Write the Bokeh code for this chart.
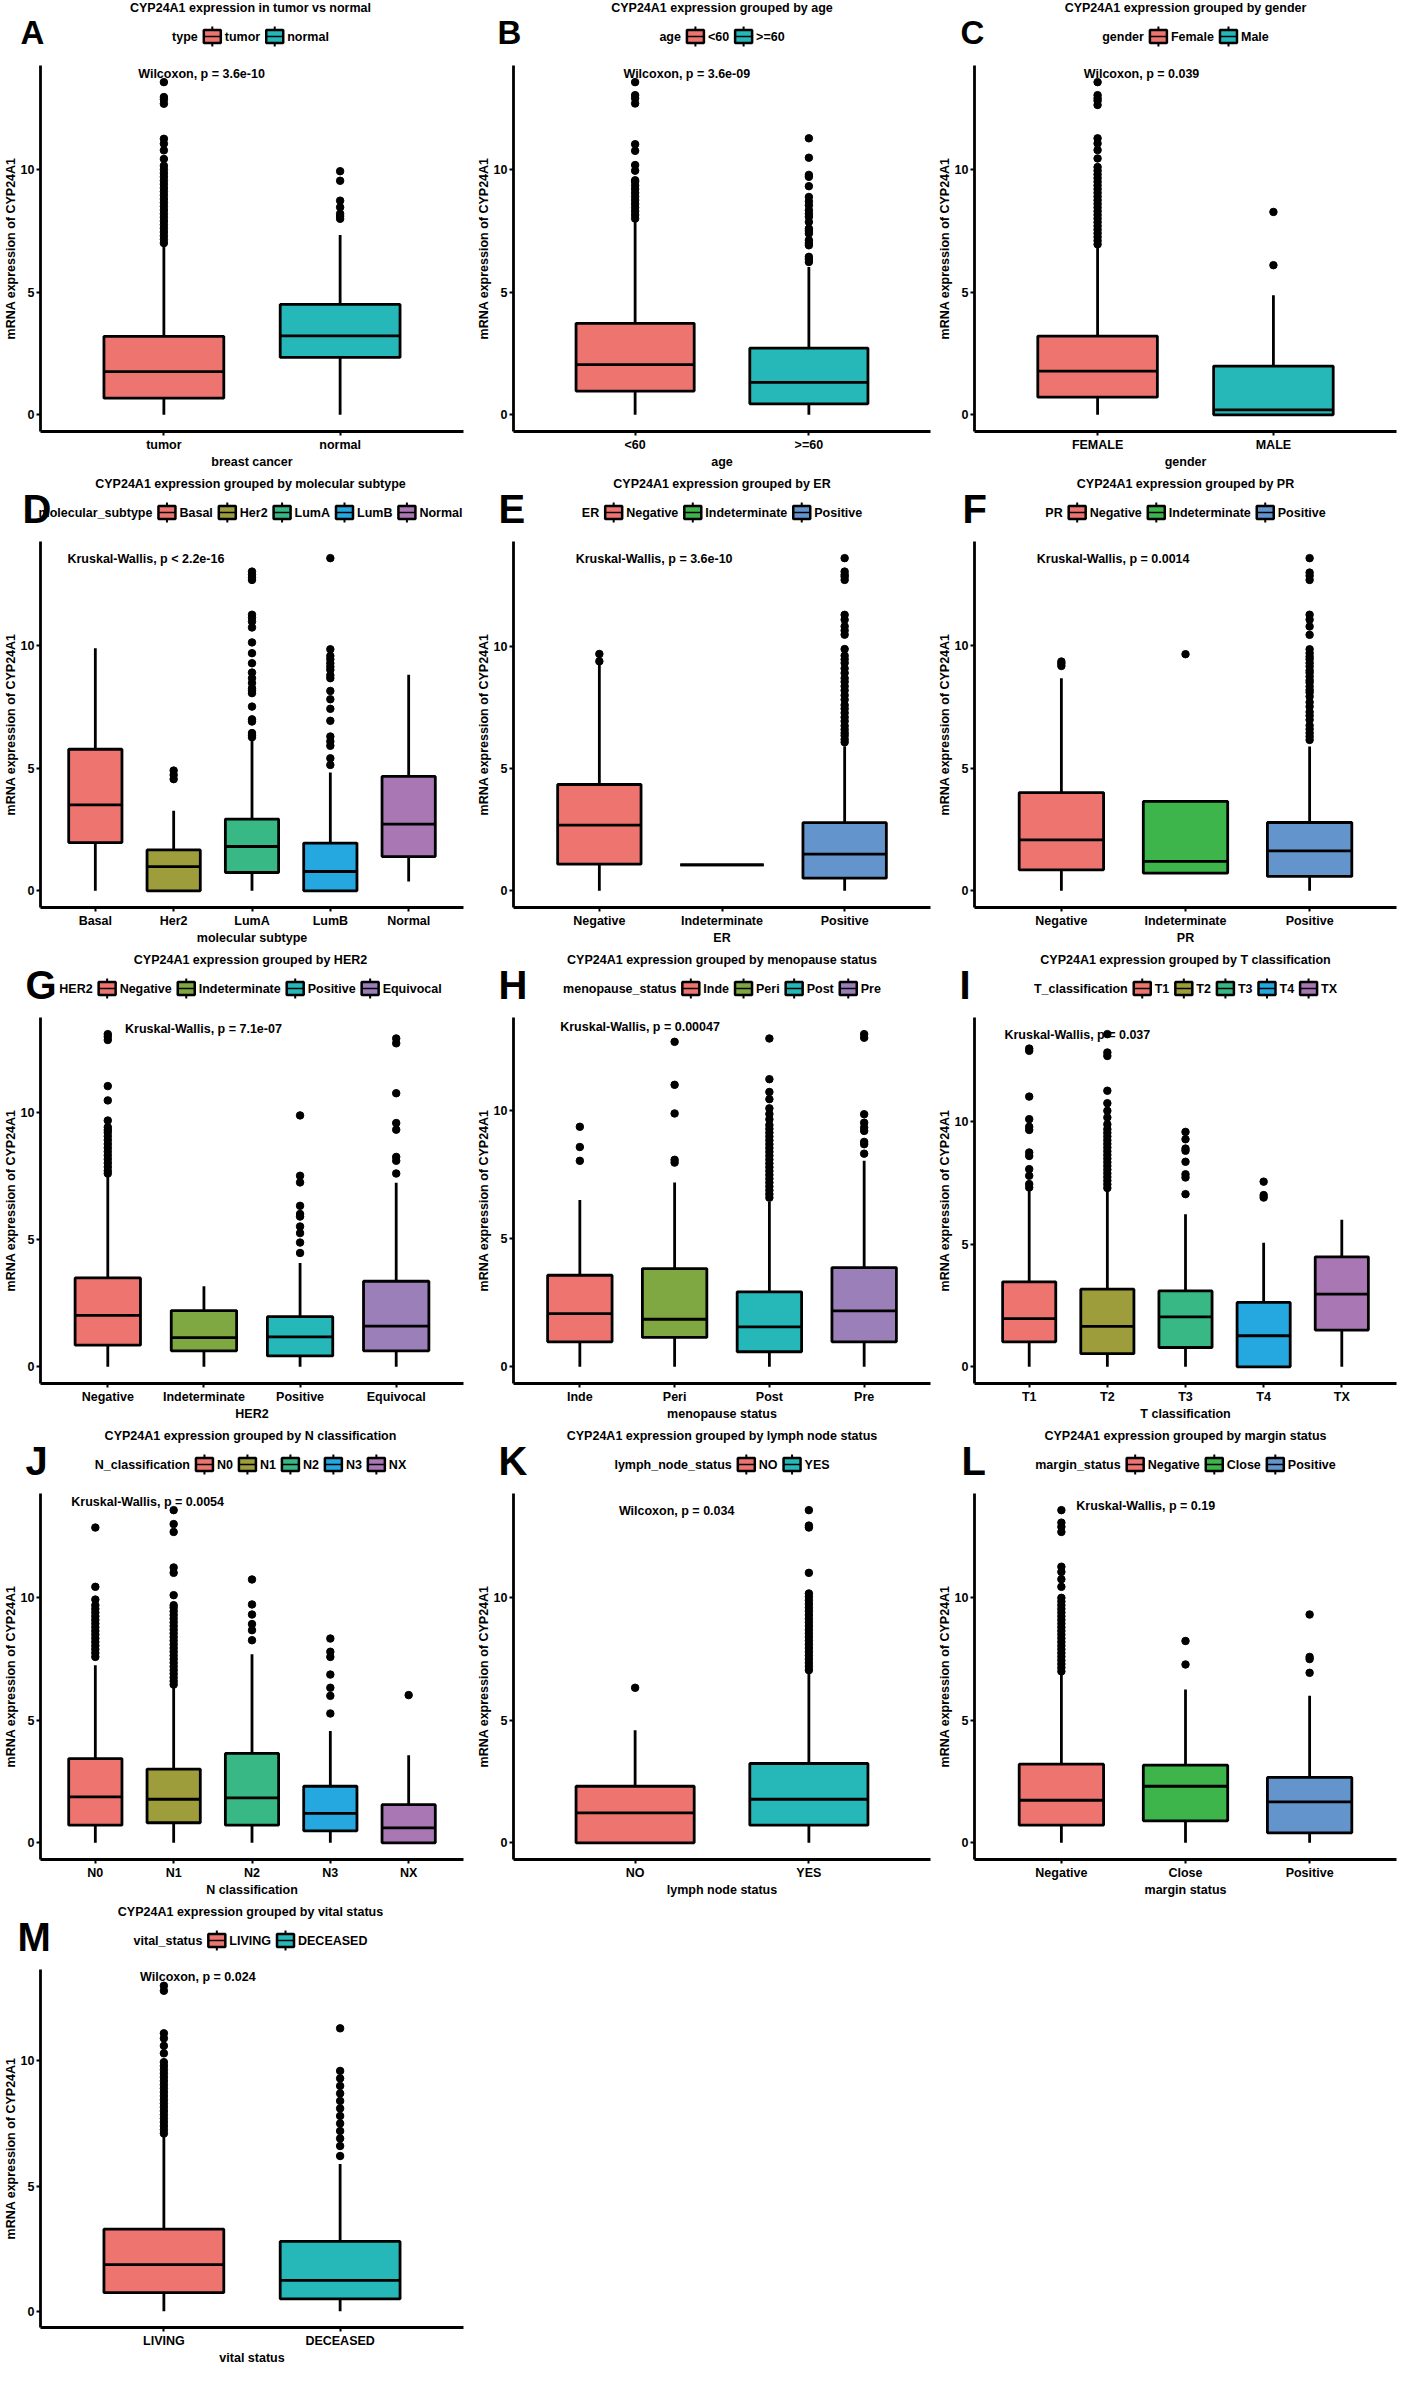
from bokeh.plotting import figure
from bokeh.models import ColumnDataSource, FactorRange, Range1d, FixedTicker
from bokeh.layouts import column, row
from bokeh.transform import dodge
from bokeh.core.properties import value
from bokeh.embed import file_html
from bokeh.resources import INLINE

FONT = "Liberation Sans"
TXT = "12.5px"
YLAB = "mRNA expression of CYP24A1"

# ---------------- data ----------------
A_cats = ["tumor", "normal"]
A_legend = ["tumor", "normal"]
A_low = [0.0, 0.0]
A_q1 = [0.68, 2.34]
A_median = [1.76, 3.22]
A_q3 = [3.20, 4.50]
A_high = [6.95, 7.33]
A_outliers = [
    [7.0, 7.15, 7.3, 7.45, 7.6, 7.75, 7.9, 8.05, 8.2, 8.35, 8.5, 8.65, 8.8, 8.95, 9.1, 9.25,
     9.4, 9.55, 9.7, 9.85, 10.0, 10.15, 10.43, 10.78, 11.05, 11.25, 12.68, 12.85, 12.95, 13.56],
    [7.99, 8.1, 8.2, 8.46, 8.73, 9.54, 9.93],
]

B_cats = ["<60", ">=60"]
B_legend = ["<60", ">=60"]
B_low = [0.0, 0.0]
B_q1 = [0.97, 0.45]
B_median = [2.05, 1.32]
B_q3 = [3.73, 2.72]
B_high = [7.93, 6.03]
B_outliers = [
    [8.0, 8.15, 8.3, 8.45, 8.6, 8.75, 8.9, 9.05, 9.2, 9.35, 9.5, 9.56, 9.95, 10.18, 10.76,
     11.03, 12.69, 12.9, 13.03, 13.56],
    [6.23, 6.35, 6.44, 6.91, 7.0, 7.12, 7.39, 7.5, 7.59, 7.86, 8.07, 8.2, 8.34, 8.54, 8.7,
     8.88, 9.32, 9.7, 9.78, 10.48, 11.27],
]

C_cats = ["FEMALE", "MALE"]
C_legend = ["Female", "Male"]
C_low = [0.0, 0.0]
C_q1 = [0.72, 0.0]
C_median = [1.78, 0.2]
C_q3 = [3.21, 1.99]
C_high = [6.84, 4.87]
C_outliers = [
    [6.95, 7.1, 7.25, 7.4, 7.55, 7.7, 7.85, 8.0, 8.15, 8.3, 8.45, 8.6, 8.75, 8.9, 9.05, 9.2,
     9.35, 9.5, 9.65, 9.8, 9.95, 10.1, 10.45, 10.79, 11.06, 11.27, 12.63, 12.8, 12.9, 13.03, 13.56],
    [6.1, 8.27],
]

D_cats = ["Basal", "Her2", "LumA", "LumB", "Normal"]
D_legend = ["Basal", "Her2", "LumA", "LumB", "Normal"]
D_low = [0.0, 0.0, 0.0, 0.0, 0.38]
D_q1 = [1.97, 0.0, 0.75, 0.0, 1.40]
D_median = [3.51, 0.99, 1.81, 0.79, 2.72]
D_q3 = [5.78, 1.67, 2.93, 1.95, 4.67]
D_high = [9.90, 3.27, 6.16, 4.83, 8.82]
D_outliers = [
    [],
    [4.56, 4.73, 4.91],
    [6.27, 6.35, 6.44, 6.91, 7.0, 7.52, 8.07, 8.17, 8.27, 8.48, 8.68, 8.91, 9.29, 9.7, 10.14,
     10.75, 10.99, 11.15, 11.27, 12.69, 12.8, 12.9, 13.03],
    [5.14, 5.41, 5.92, 6.1, 6.3, 6.94, 7.43, 7.82, 8.16, 8.68, 8.8, 9.02, 9.15, 9.29, 9.45,
     9.59, 9.86, 13.58],
    [],
]

E_cats = ["Negative", "Indeterminate", "Positive"]
E_legend = ["Negative", "Indeterminate", "Positive"]
E_low = [0.0, 1.06, 0.0]
E_q1 = [1.09, 1.06, 0.52]
E_median = [2.69, 1.06, 1.50]
E_q3 = [4.35, 1.06, 2.79]
E_high = [9.32, 1.06, 5.92]
E_outliers = [
    [9.39, 9.69],
    [],
    [6.08, 6.2, 6.35, 6.46, 6.6, 6.75, 6.94, 7.1, 7.28, 7.45, 7.6, 7.82, 8.0, 8.2, 8.37, 8.55,
     8.7, 8.91, 9.1, 9.32, 9.47, 9.62, 9.89, 10.48, 10.65, 10.82, 11.09, 11.29, 12.72, 12.85,
     12.93, 13.06, 13.61],
]

F_cats = ["Negative", "Indeterminate", "Positive"]
F_legend = ["Negative", "Indeterminate", "Positive"]
F_low = [0.0, 0.72, 0.0]
F_q1 = [0.86, 0.72, 0.59]
F_median = [2.08, 1.20, 1.63]
F_q3 = [4.01, 3.65, 2.79]
F_high = [8.68, 3.65, 5.89]
F_outliers = [
    [9.18, 9.28, 9.36],
    [9.66],
    [6.16, 6.3, 6.44, 6.6, 6.75, 6.98, 7.15, 7.3, 7.52, 7.7, 7.93, 8.1, 8.2, 8.34, 8.5, 8.6,
     8.75, 8.9, 9.0, 9.16, 9.3, 9.45, 9.56, 9.7, 9.86, 10.45, 10.79, 11.07, 11.27, 12.69,
     12.86, 12.99, 13.58],
]

G_cats = ["Negative", "Indeterminate", "Positive", "Equivocal"]
G_legend = ["Negative", "Indeterminate", "Positive", "Equivocal"]
G_low = [0.0, 0.0, 0.0, 0.0]
G_q1 = [0.85, 0.63, 0.43, 0.63]
G_median = [2.02, 1.15, 1.18, 1.60]
G_q3 = [3.49, 2.21, 1.97, 3.36]
G_high = [7.46, 3.16, 4.08, 7.23]
G_outliers = [
    [7.59, 7.7, 7.85, 8.0, 8.15, 8.3, 8.45, 8.6, 8.75, 8.9, 9.05, 9.2, 9.3, 9.41, 9.67, 10.46,
     11.02, 12.83, 12.96, 13.06],
    [],
    [4.47, 4.88, 5.25, 5.51, 5.9, 6.0, 6.32, 7.24, 7.5, 9.87],
    [7.59, 8.09, 8.24, 9.31, 9.57, 10.74, 12.7, 12.89],
]

H_cats = ["Inde", "Peri", "Post", "Pre"]
H_legend = ["Inde", "Peri", "Post", "Pre"]
H_low = [0.0, 0.0, 0.0, 0.0]
H_q1 = [0.98, 1.15, 0.59, 0.98]
H_median = [2.08, 1.86, 1.56, 2.19]
H_q3 = [3.58, 3.84, 2.93, 3.88]
H_high = [6.52, 7.20, 6.45, 8.05]
H_outliers = [
    [8.05, 8.59, 9.38],
    [7.98, 8.09, 9.9, 11.02, 12.7],
    [6.61, 6.75, 6.9, 7.05, 7.2, 7.35, 7.5, 7.65, 7.8, 7.95, 8.1, 8.25, 8.4, 8.55, 8.7, 8.85,
     9.0, 9.15, 9.3, 9.45, 9.67, 9.88, 10.1, 10.46, 10.74, 11.24, 12.83],
    [8.33, 8.7, 8.79, 9.22, 9.35, 9.54, 9.87, 12.86, 13.0],
]

I_cats = ["T1", "T2", "T3", "T4", "TX"]
I_legend = ["T1", "T2", "T3", "T4", "TX"]
I_low = [0.0, 0.0, 0.0, 0.0, 0.0]
I_q1 = [1.02, 0.54, 0.79, 0.0, 1.50]
I_median = [1.97, 1.65, 2.04, 1.27, 2.97]
I_q3 = [3.47, 3.17, 3.10, 2.63, 4.49]
I_high = [7.18, 7.18, 6.23, 5.07, 6.00]
I_outliers = [
    [7.32, 7.46, 7.8, 8.07, 8.61, 8.75, 9.67, 9.8, 10.11, 11.03, 12.9, 12.99],
    [7.3, 7.45, 7.6, 7.75, 7.9, 8.05, 8.2, 8.35, 8.5, 8.65, 8.8, 8.95, 9.1, 9.25, 9.4, 9.55,
     9.7, 9.9, 10.18, 10.45, 10.76, 11.27, 12.69, 12.83, 13.58],
    [7.05, 7.73, 7.86, 8.37, 8.82, 8.91, 9.29, 9.59],
    [6.91, 7.01, 7.56],
    [],
]

J_cats = ["N0", "N1", "N2", "N3", "NX"]
J_legend = ["N0", "N1", "N2", "N3", "NX"]
J_low = [0.0, 0.0, 0.0, 0.0, 0.0]
J_q1 = [0.72, 0.82, 0.72, 0.49, 0.0]
J_median = [1.88, 1.78, 1.84, 1.20, 0.61]
J_q3 = [3.44, 3.01, 3.65, 2.31, 1.56]
J_high = [7.25, 6.37, 7.70, 4.57, 3.58]
J_outliers = [
    [7.59, 7.75, 7.9, 8.05, 8.2, 8.35, 8.5, 8.65, 8.8, 8.95, 9.1, 9.25, 9.4, 9.55, 9.7, 9.93,
     10.45, 12.87],
    [6.46, 6.6, 6.75, 6.9, 7.05, 7.2, 7.35, 7.5, 7.65, 7.8, 7.95, 8.1, 8.25, 8.4, 8.55, 8.7,
     8.85, 9.0, 9.15, 9.3, 9.45, 9.6, 9.7, 10.11, 11.02, 11.24, 12.69, 13.01, 13.58],
    [8.27, 8.68, 8.93, 9.32, 9.73, 10.75],
    [5.28, 6.0, 6.33, 6.87, 7.59, 7.8, 8.34],
    [6.03],
]

K_cats = ["NO", "YES"]
K_legend = ["NO", "YES"]
K_low = [0.0, 0.0]
K_q1 = [0.0, 0.72]
K_median = [1.22, 1.78]
K_q3 = [2.31, 3.24]
K_high = [4.60, 6.98]
K_outliers = [
    [6.33],
    [7.05, 7.2, 7.35, 7.5, 7.65, 7.8, 7.95, 8.1, 8.25, 8.4, 8.55, 8.7, 8.85, 9.0, 9.15, 9.3,
     9.45, 9.6, 9.75, 9.9, 10.05, 10.18, 11.02, 12.87, 12.95, 13.58],
]

L_cats = ["Negative", "Close", "Positive"]
L_legend = ["Negative", "Close", "Positive"]
L_low = [0.0, 0.0, 0.0]
L_q1 = [0.72, 0.90, 0.41]
L_median = [1.74, 2.31, 1.67]
L_q3 = [3.21, 3.17, 2.67]
L_high = [6.91, 6.26, 6.00]
L_outliers = [
    [7.0, 7.15, 7.3, 7.45, 7.6, 7.75, 7.9, 8.05, 8.2, 8.35, 8.5, 8.65, 8.8, 8.95, 9.1, 9.25,
     9.4, 9.55, 9.7, 9.85, 10.0, 10.45, 10.76, 11.06, 11.27, 12.69, 12.9, 13.07, 13.58],
    [7.28, 8.24],
    [6.94, 7.5, 7.59, 9.32],
]

M_cats = ["LIVING", "DECEASED"]
M_legend = ["LIVING", "DECEASED"]
M_low = [0.0, 0.0]
M_q1 = [0.74, 0.49]
M_median = [1.86, 1.23]
M_q3 = [3.28, 2.79]
M_high = [6.98, 5.88]
M_outliers = [
    [7.1, 7.25, 7.4, 7.55, 7.7, 7.85, 8.0, 8.15, 8.3, 8.45, 8.6, 8.75, 8.9, 9.05, 9.2, 9.35,
     9.5, 9.65, 9.8, 9.95, 10.3, 10.6, 10.9, 11.1, 12.8, 13.0],
    [6.2, 6.6, 6.9, 7.2, 7.5, 7.8, 8.1, 8.4, 8.7, 9.0, 9.3, 9.6, 11.3],
]

# ---------------- colours ----------------
PAL2 = ["#EE7470", "#26B8B8"]
PAL3 = ["#EE7470", "#3DB54A", "#6394CC"]
PAL4 = ["#EE7470", "#7FA843", "#26B8B8", "#9A7FB8"]
PAL5 = ["#EE7470", "#9D9E3B", "#37B884", "#25A7E0", "#A977B4"]

# ---------------- layout ----------------
COL_W = [466, 466, 465]
COL_BL = [37, 47, 42]
COL_BR = [3, 2, 1]
ROW_H = [476, 476, 476, 476, 463]
FRAME_H = [366, 366, 366, 366, 366]
HEAD = 65

# Arial/Liberation Sans Bold advance widths (1/1000 em) for legend layout
CW = {' ': 278, ',': 278, '-': 333, '.': 278, '<': 584, '=': 584, '>': 584, '_': 556,
      'A': 722, 'B': 722, 'C': 722, 'D': 722, 'E': 667, 'F': 611, 'G': 778, 'H': 722, 'I': 278,
      'J': 556, 'K': 722, 'L': 611, 'M': 833, 'N': 722, 'O': 778, 'P': 667, 'Q': 778, 'R': 722,
      'S': 667, 'T': 611, 'U': 722, 'V': 667, 'W': 944, 'X': 667, 'Y': 667, 'Z': 611,
      'a': 556, 'b': 611, 'c': 556, 'd': 611, 'e': 556, 'f': 333, 'g': 611, 'h': 611, 'i': 278,
      'j': 278, 'k': 556, 'l': 278, 'm': 889, 'n': 611, 'o': 611, 'p': 611, 'q': 611, 'r': 389,
      's': 556, 't': 333, 'u': 611, 'v': 556, 'w': 778, 'x': 556, 'y': 556, 'z': 500}


def tw(s, size=12.5):
    return sum(CW.get(ch, 556) for ch in s) / 1000.0 * size


def text_kw(size=TXT):
    return dict(text_font=value(FONT), text_font_style="bold", text_font_size=value(size),
                text_color="black")


def no_align(fig):
    if "frame_align" in fig.properties():
        fig.frame_align = False


def header(col, rw, letter, letter_size, letter_dx, title, leg_title, labels, pal):
    W = COL_W[col]
    bl, br = COL_BL[col], COL_BR[col]
    fw = W - bl - br
    cx = bl + fw / 2
    h = figure(width=W, height=HEAD, x_range=Range1d(0, W), y_range=Range1d(HEAD, 0),
               output_backend="svg", toolbar_location=None, tools="", title=None,
               x_axis_location=None, y_axis_location=None, min_border=0,
               min_border_left=0, min_border_right=0, min_border_top=0, min_border_bottom=0)
    no_align(h)
    h.outline_line_color = None
    h.xgrid.grid_line_color = None
    h.ygrid.grid_line_color = None
    h.text(x=[bl + letter_dx], y=[32], text=[letter], text_align="left",
           text_baseline="alphabetic", **text_kw(letter_size))
    h.text(x=[cx], y=[7], text=[title], text_align="center", text_baseline="middle",
           **text_kw())
    # ggplot-style legend: title, then key + label per level
    n = len(labels)
    total = tw(leg_title) + 6 + sum(17 + 4 + tw(l) for l in labels) + 6 * (n - 1)
    x = cx - total / 2
    tx, ty, tt = [x], [36], [leg_title]
    x += tw(leg_title) + 6
    kl, kr = [], []
    for l in labels:
        kl.append(x)
        kr.append(x + 17)
        x += 21
        tx.append(x)
        ty.append(36)
        tt.append(l)
        x += tw(l) + 6
    kc = [(a + b) / 2 for a, b in zip(kl, kr)]
    h.segment(x0=kc, y0=[26] * n, x1=kc, y1=[46] * n, line_color="black", line_width=2)
    h.quad(left=kl, right=kr, top=[29.5] * n, bottom=[42.5] * n, fill_color=pal[:n],
           line_color="black", line_width=2.5)
    h.segment(x0=kl, y0=[36] * n, x1=kr, y1=[36] * n, line_color="black", line_width=1.5)
    h.text(x=tx, y=ty, text=tt, text_align="left", text_baseline="middle", **text_kw())
    return h


def panel(col, rw, cats, pal, lo, q1, med, q3, hi, outs, xlab, ptext, ptx, pty):
    W, H = COL_W[col], ROW_H[rw] - HEAD
    bl, br = COL_BL[col], COL_BR[col]
    fh = FRAME_H[rw]
    bb = H - fh
    fw = W - bl - br
    n = len(cats)
    vals = list(hi)
    for o in outs:
        vals.extend(o)
    ymax = max(vals)
    pad = 0.05 * ymax
    p = figure(width=W, height=H, title=None,
               x_range=FactorRange(factors=cats, range_padding=0.2, range_padding_units="absolute"),
               y_range=Range1d(-pad, ymax + pad),
               output_backend="svg", toolbar_location=None, tools="",
               min_border_left=bl, min_border_right=br, min_border_top=0, min_border_bottom=bb)
    no_align(p)
    p.outline_line_color = None
    p.xgrid.grid_line_color = None
    p.ygrid.grid_line_color = None

    src = ColumnDataSource(dict(x=cats, lo=lo, q1=q1, med=med, q3=q3, hi=hi, color=pal[:n]))
    ox, oy = [], []
    for c, o in zip(cats, outs):
        ox.extend([c] * len(o))
        oy.extend(o)
    p.scatter(x=ox, y=oy, size=7.5, color="black")
    p.segment(x0="x", y0="q3", x1="x", y1="hi", source=src, line_color="black", line_width=2.8)
    p.segment(x0="x", y0="lo", x1="x", y1="q1", source=src, line_color="black", line_width=2.8)
    p.vbar(x="x", bottom="q1", top="q3", width=0.68, source=src, fill_color="color",
           line_color="black", line_width=2.8)
    p.segment(x0=dodge("x", -0.34, range=p.x_range), y0="med",
              x1=dodge("x", 0.34, range=p.x_range), y1="med", source=src,
              line_color="black", line_width=2.8)

    # statistics text (position given in frame pixels)
    xd = -0.1 + ptx / fw * (n + 0.2)
    yd = (ymax + pad) - pty / fh * (ymax + 2 * pad)
    tsrc = ColumnDataSource(dict(x=[cats[0]], y=[yd], t=[ptext]))
    p.text(x=dodge("x", xd - 0.5, range=p.x_range), y="y", text="t", source=tsrc,
           text_align="left", text_baseline="middle", **text_kw())

    for ax in (p.xaxis[0], p.yaxis[0]):
        ax.axis_line_color = "black"
        ax.axis_line_width = 2.8
        ax.major_tick_line_color = "black"
        ax.major_tick_line_width = 2
        ax.major_tick_out = 4
        ax.major_tick_in = 0
        ax.minor_tick_line_color = None
        ax.major_label_text_font = FONT
        ax.major_label_text_font_style = "bold"
        ax.major_label_text_font_size = TXT
        ax.major_label_text_color = "black"
        ax.axis_label_text_font = FONT
        ax.axis_label_text_font_style = "bold"
        ax.axis_label_text_font_size = TXT
        ax.axis_label_text_color = "black"
        ax.major_label_standoff = 2
        ax.axis_label_standoff = 0
    p.xaxis.axis_label = xlab
    p.yaxis.axis_label = YLAB
    p.yaxis.ticker = FixedTicker(ticks=[0, 5, 10])
    return p


def build(col, rw, letter, letter_size, letter_dx, title, leg_title, cats, leg_labels, pal,
          lo, q1, med, q3, hi, outs, xlab, ptext, ptx, pty):
    h = header(col, rw, letter, letter_size, letter_dx, title, leg_title, leg_labels, pal)
    p = panel(col, rw, cats, pal, lo, q1, med, q3, hi, outs, xlab, ptext, ptx, pty)
    return column(h, p)


T = "CYP24A1 expression grouped by "
gA = build(0, 0, "A", "33px", -17, "CYP24A1 expression in tumor vs normal", "type", A_cats,
           A_legend, PAL2, A_low, A_q1, A_median, A_q3, A_high, A_outliers, "breast cancer",
           "Wilcoxon, p = 3.6e-10", 88, 8)
gB = build(1, 0, "B", "33px", -16, T + "age", "age", B_cats, B_legend, PAL2,
           B_low, B_q1, B_median, B_q3, B_high, B_outliers, "age",
           "Wilcoxon, p = 3.6e-09", 101, 8)
gC = build(2, 0, "C", "33px", -14, T + "gender", "gender", C_cats, C_legend, PAL2,
           C_low, C_q1, C_median, C_q3, C_high, C_outliers, "gender",
           "Wilcoxon, p = 0.039", 100, 8)
gD = build(0, 1, "D", "40px", -15, T + "molecular subtype", "molecular_subtype", D_cats,
           D_legend, PAL5, D_low, D_q1, D_median, D_q3, D_high, D_outliers, "molecular subtype",
           "Kruskal-Wallis, p < 2.2e-16", 20, 17)
gE = build(1, 1, "E", "40px", -15, T + "ER", "ER", E_cats, E_legend, PAL3,
           E_low, E_q1, E_median, E_q3, E_high, E_outliers, "ER",
           "Kruskal-Wallis, p = 3.6e-10", 53, 17)
gF = build(2, 1, "F", "40px", -12, T + "PR", "PR", F_cats, F_legend, PAL3,
           F_low, F_q1, F_median, F_q3, F_high, F_outliers, "PR",
           "Kruskal-Wallis, p = 0.0014", 53, 17)
gG = build(0, 2, "G", "40px", -12, T + "HER2", "HER2", G_cats, G_legend, PAL4,
           G_low, G_q1, G_median, G_q3, G_high, G_outliers, "HER2",
           "Kruskal-Wallis, p = 7.1e-07", 79, 11)
gH = build(1, 2, "H", "40px", -15, T + "menopause status", "menopause_status", H_cats,
           H_legend, PAL4, H_low, H_q1, H_median, H_q3, H_high, H_outliers, "menopause status",
           "Kruskal-Wallis, p = 0.00047", 39, 9)
gI = build(2, 2, "I", "40px", -15, T + "T classification", "T_classification", I_cats,
           I_legend, PAL5, I_low, I_q1, I_median, I_q3, I_high, I_outliers, "T classification",
           "Kruskal-Wallis, p = 0.037", 23, 17)
gJ = build(0, 3, "J", "40px", -12, T + "N classification", "N_classification", J_cats,
           J_legend, PAL5, J_low, J_q1, J_median, J_q3, J_high, J_outliers, "N classification",
           "Kruskal-Wallis, p = 0.0054", 24, 8)
gK = build(1, 3, "K", "40px", -15, T + "lymph node status", "lymph_node_status", K_cats,
           K_legend, PAL2, K_low, K_q1, K_median, K_q3, K_high, K_outliers, "lymph node status",
           "Wilcoxon, p = 0.034", 96, 17)
gL = build(2, 3, "L", "40px", -13, T + "margin status", "margin_status", L_cats, L_legend,
           PAL3, L_low, L_q1, L_median, L_q3, L_high, L_outliers, "margin status",
           "Kruskal-Wallis, p = 0.19", 95, 12)
gM = build(0, 4, "M", "40px", -20, T + "vital status", "vital_status", M_cats, M_legend, PAL2,
           M_low, M_q1, M_median, M_q3, M_high, M_outliers, "vital status",
           "Wilcoxon, p = 0.024", 90, 8)

layout = column(row(gA, gB, gC), row(gD, gE, gF), row(gG, gH, gI), row(gJ, gK, gL), row(gM))
open("out.html", "w").write(file_html(layout, INLINE, title="CYP24A1 expression"))
